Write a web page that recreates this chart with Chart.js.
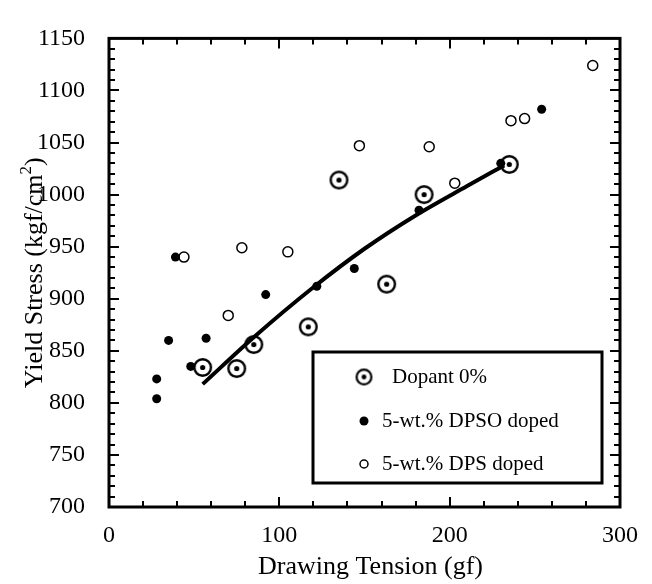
<!DOCTYPE html>
<html>
<head>
<meta charset="utf-8">
<script src="https://cdn.jsdelivr.net/npm/chart.js@4.4.0/dist/chart.umd.min.js"></script>
<style>
  html, body { margin: 0; padding: 0; background: #fff; }
  #wrap { width: 652px; height: 584px; }
</style>
</head>
<body>
<div id="wrap"><canvas id="yield-chart" width="652" height="584"></canvas></div>
<script>
    'use strict';

    // Undoped fibres (circled dot)
    const undopedTension = [55, 75, 85, 117, 135, 163, 185, 235];
    const undopedStress = [834, 833, 856, 873, 1014, 914, 1000, 1029];

    // 5-wt.% DPSO doped (filled dot)
    const dpsoTension = [28, 28, 35, 39, 48, 57, 92, 122, 144, 182, 230, 254];
    const dpsoStress = [823, 804, 860, 940, 835, 862, 904, 912, 929, 985, 1030, 1082];

    // 5-wt.% DPS doped (open circle)
    const dpsTension = [44, 70, 78, 105, 147, 188, 203, 236, 244, 284];
    const dpsStress = [940, 884, 949, 945, 1047, 1046, 1011, 1071, 1073, 1124];

    // Trend curve through the undoped series
    const fitTension = [55, 85, 120, 150, 180, 210, 232];
    const fitStress = [818, 863, 911, 948, 980, 1008, 1028];

    // Axis ticks
    const xTicks = [0, 100, 200, 300];
    const yTicks = [700, 750, 800, 850, 900, 950, 1000, 1050, 1100, 1150];

    const legendLabels = ['Dopant 0%', '5-wt.% DPSO doped', '5-wt.% DPS doped'];

    const SERIF = '"Liberation Serif", "Times New Roman", serif';

    function toPoints(xs, ys) {
        return xs.map(function(x, i) { return { x: x, y: ys[i] }; });
    }

    // Ring with a dot in the middle, used as a point style
    function ringDot(r, lw, dotR) {
        const c = document.createElement('canvas');
        const size = Math.ceil(2 * r + 2);
        c.width = size;
        c.height = size;
        const ctx = c.getContext('2d');
        const m = size / 2;
        ctx.strokeStyle = '#000';
        ctx.lineWidth = lw;
        ctx.beginPath();
        ctx.arc(m, m, r - lw / 2, 0, Math.PI * 2);
        ctx.stroke();
        ctx.fillStyle = '#000';
        ctx.beginPath();
        ctx.arc(m, m, dotR, 0, Math.PI * 2);
        ctx.fill();
        return c;
    }

    const ringMarker = ringDot(9.5, 2.4, 2.6);
    const ringLegend = ringDot(8.5, 2.2, 2.4);

    // Frame plus inward ticks on all four sides
    const frameTicks = {
        id: 'frameTicks',
        afterDatasetsDraw: function(chart) {
            const ctx = chart.ctx;
            const a = chart.chartArea;
            const xs = chart.scales.x;
            const ys = chart.scales.y;
            ctx.save();
            ctx.strokeStyle = '#000';
            ctx.lineWidth = 2;
            ctx.beginPath();
            for (let v = 0; v <= 300; v += 20) {
                const px = Math.round(xs.getPixelForValue(v));
                const len = v % 100 === 0 ? 10 : 6;
                ctx.moveTo(px, a.bottom);
                ctx.lineTo(px, a.bottom - len);
                ctx.moveTo(px, a.top);
                ctx.lineTo(px, a.top + len);
            }
            for (let v = 700; v <= 1150; v += 10) {
                const py = Math.round(ys.getPixelForValue(v));
                const len = v % 50 === 0 ? 10 : 6;
                ctx.moveTo(a.left, py);
                ctx.lineTo(a.left + len, py);
                ctx.moveTo(a.right, py);
                ctx.lineTo(a.right - len, py);
            }
            ctx.stroke();
            ctx.lineWidth = 3;
            ctx.strokeRect(a.left, a.top, a.right - a.left, a.bottom - a.top);
            ctx.restore();
        }
    };

    // Axis titles (the y title carries a superscript)
    const axisTitles = {
        id: 'axisTitles',
        afterDraw: function(chart) {
            const ctx = chart.ctx;
            const a = chart.chartArea;
            ctx.save();
            ctx.fillStyle = '#000';
            ctx.font = '26px ' + SERIF;
            ctx.textAlign = 'center';
            ctx.textBaseline = 'middle';
            ctx.fillText('Drawing Tension (gf)', (a.left + a.right) / 2 + 6, 567);

            const head = 'Yield Stress (kgf/cm';
            const sup = '2';
            const tail = ')';
            ctx.font = '26px ' + SERIF;
            const wHead = ctx.measureText(head).width;
            const wTail = ctx.measureText(tail).width;
            ctx.font = '17px ' + SERIF;
            const wSup = ctx.measureText(sup).width;
            const total = wHead + wSup + wTail;
            ctx.translate(33, (a.top + a.bottom) / 2);
            ctx.rotate(-Math.PI / 2);
            ctx.textAlign = 'left';
            ctx.textBaseline = 'alphabetic';
            let x0 = -total / 2;
            ctx.font = '26px ' + SERIF;
            ctx.fillText(head, x0, 9);
            ctx.font = '17px ' + SERIF;
            ctx.fillText(sup, x0 + wHead, -2);
            ctx.font = '26px ' + SERIF;
            ctx.fillText(tail, x0 + wHead + wSup, 9);
            ctx.restore();
        }
    };

    // Boxed legend in the lower right of the plot
    const boxLegend = {
        id: 'boxLegend',
        afterDraw: function(chart) {
            const ctx = chart.ctx;
            const box = { left: 313, top: 352, right: 602, bottom: 483 };
            const rows = [377, 421, 464];
            const symX = 364;
            ctx.save();
            ctx.fillStyle = '#fff';
            ctx.fillRect(box.left, box.top, box.right - box.left, box.bottom - box.top);
            ctx.strokeStyle = '#000';
            ctx.lineWidth = 3;
            ctx.strokeRect(box.left, box.top, box.right - box.left, box.bottom - box.top);

            ctx.drawImage(ringLegend, symX - ringLegend.width / 2, rows[0] - ringLegend.height / 2);

            ctx.fillStyle = '#000';
            ctx.beginPath();
            ctx.arc(symX, rows[1], 4.5, 0, Math.PI * 2);
            ctx.fill();

            ctx.lineWidth = 1.5;
            ctx.beginPath();
            ctx.arc(symX, rows[2], 4, 0, Math.PI * 2);
            ctx.stroke();

            ctx.font = '21px ' + SERIF;
            ctx.textAlign = 'left';
            ctx.textBaseline = 'middle';
            ctx.fillText(legendLabels[0], 392, rows[0]);
            ctx.fillText(legendLabels[1], 382, rows[1]);
            ctx.fillText(legendLabels[2], 382, rows[2]);
            ctx.restore();
        }
    };

    const ctx = document.getElementById('yield-chart');

    new Chart(ctx, {
        type: 'scatter',
        data: {
            datasets: [
                {
                    label: legendLabels[0],
                    data: toPoints(undopedTension, undopedStress),
                    pointStyle: ringMarker,
                    pointRadius: 9,
                    showLine: false
                },
                {
                    label: legendLabels[1],
                    data: toPoints(dpsoTension, dpsoStress),
                    pointStyle: 'circle',
                    pointRadius: 4.5,
                    backgroundColor: '#000',
                    borderColor: '#000',
                    borderWidth: 0,
                    showLine: false
                },
                {
                    label: legendLabels[2],
                    data: toPoints(dpsTension, dpsStress),
                    pointStyle: 'circle',
                    pointRadius: 5,
                    backgroundColor: '#fff',
                    borderColor: '#000',
                    borderWidth: 1.5,
                    showLine: false
                },
                {
                    label: 'fit',
                    data: toPoints(fitTension, fitStress),
                    showLine: true,
                    pointRadius: 0,
                    borderColor: '#000',
                    borderWidth: 4,
                    cubicInterpolationMode: 'monotone',
                    fill: false
                }
            ]
        },
        options: {
            responsive: false,
            animation: false,
            devicePixelRatio: 1,
            layout: {
                padding: { top: 16, right: 32, left: 0, bottom: 0 }
            },
            plugins: {
                legend: { display: false },
                tooltip: { enabled: false }
            },
            scales: {
                x: {
                    type: 'linear',
                    min: 0,
                    max: 300,
                    afterBuildTicks: function(scale) {
                        scale.ticks = xTicks.map(function(v) { return { value: v }; });
                    },
                    afterFit: function(scale) { scale.height = 77; },
                    grid: { display: false, drawTicks: false },
                    border: { display: false },
                    ticks: {
                        autoSkip: false,
                        maxRotation: 0,
                        padding: 14,
                        color: '#000',
                        font: { family: SERIF, size: 24 },
                        callback: function(v) { return String(v); }
                    }
                },
                y: {
                    type: 'linear',
                    min: 700,
                    max: 1150,
                    afterBuildTicks: function(scale) {
                        scale.ticks = yTicks.map(function(v) { return { value: v }; });
                    },
                    afterFit: function(scale) { scale.width = 109; },
                    grid: { display: false, drawTicks: false },
                    border: { display: false },
                    ticks: {
                        autoSkip: false,
                        padding: 24,
                        color: '#000',
                        font: { family: SERIF, size: 24 },
                        callback: function(v) { return String(v); }
                    }
                }
            }
        },
        plugins: [frameTicks, axisTitles, boxLegend]
    });
</script>
</body>
</html>
